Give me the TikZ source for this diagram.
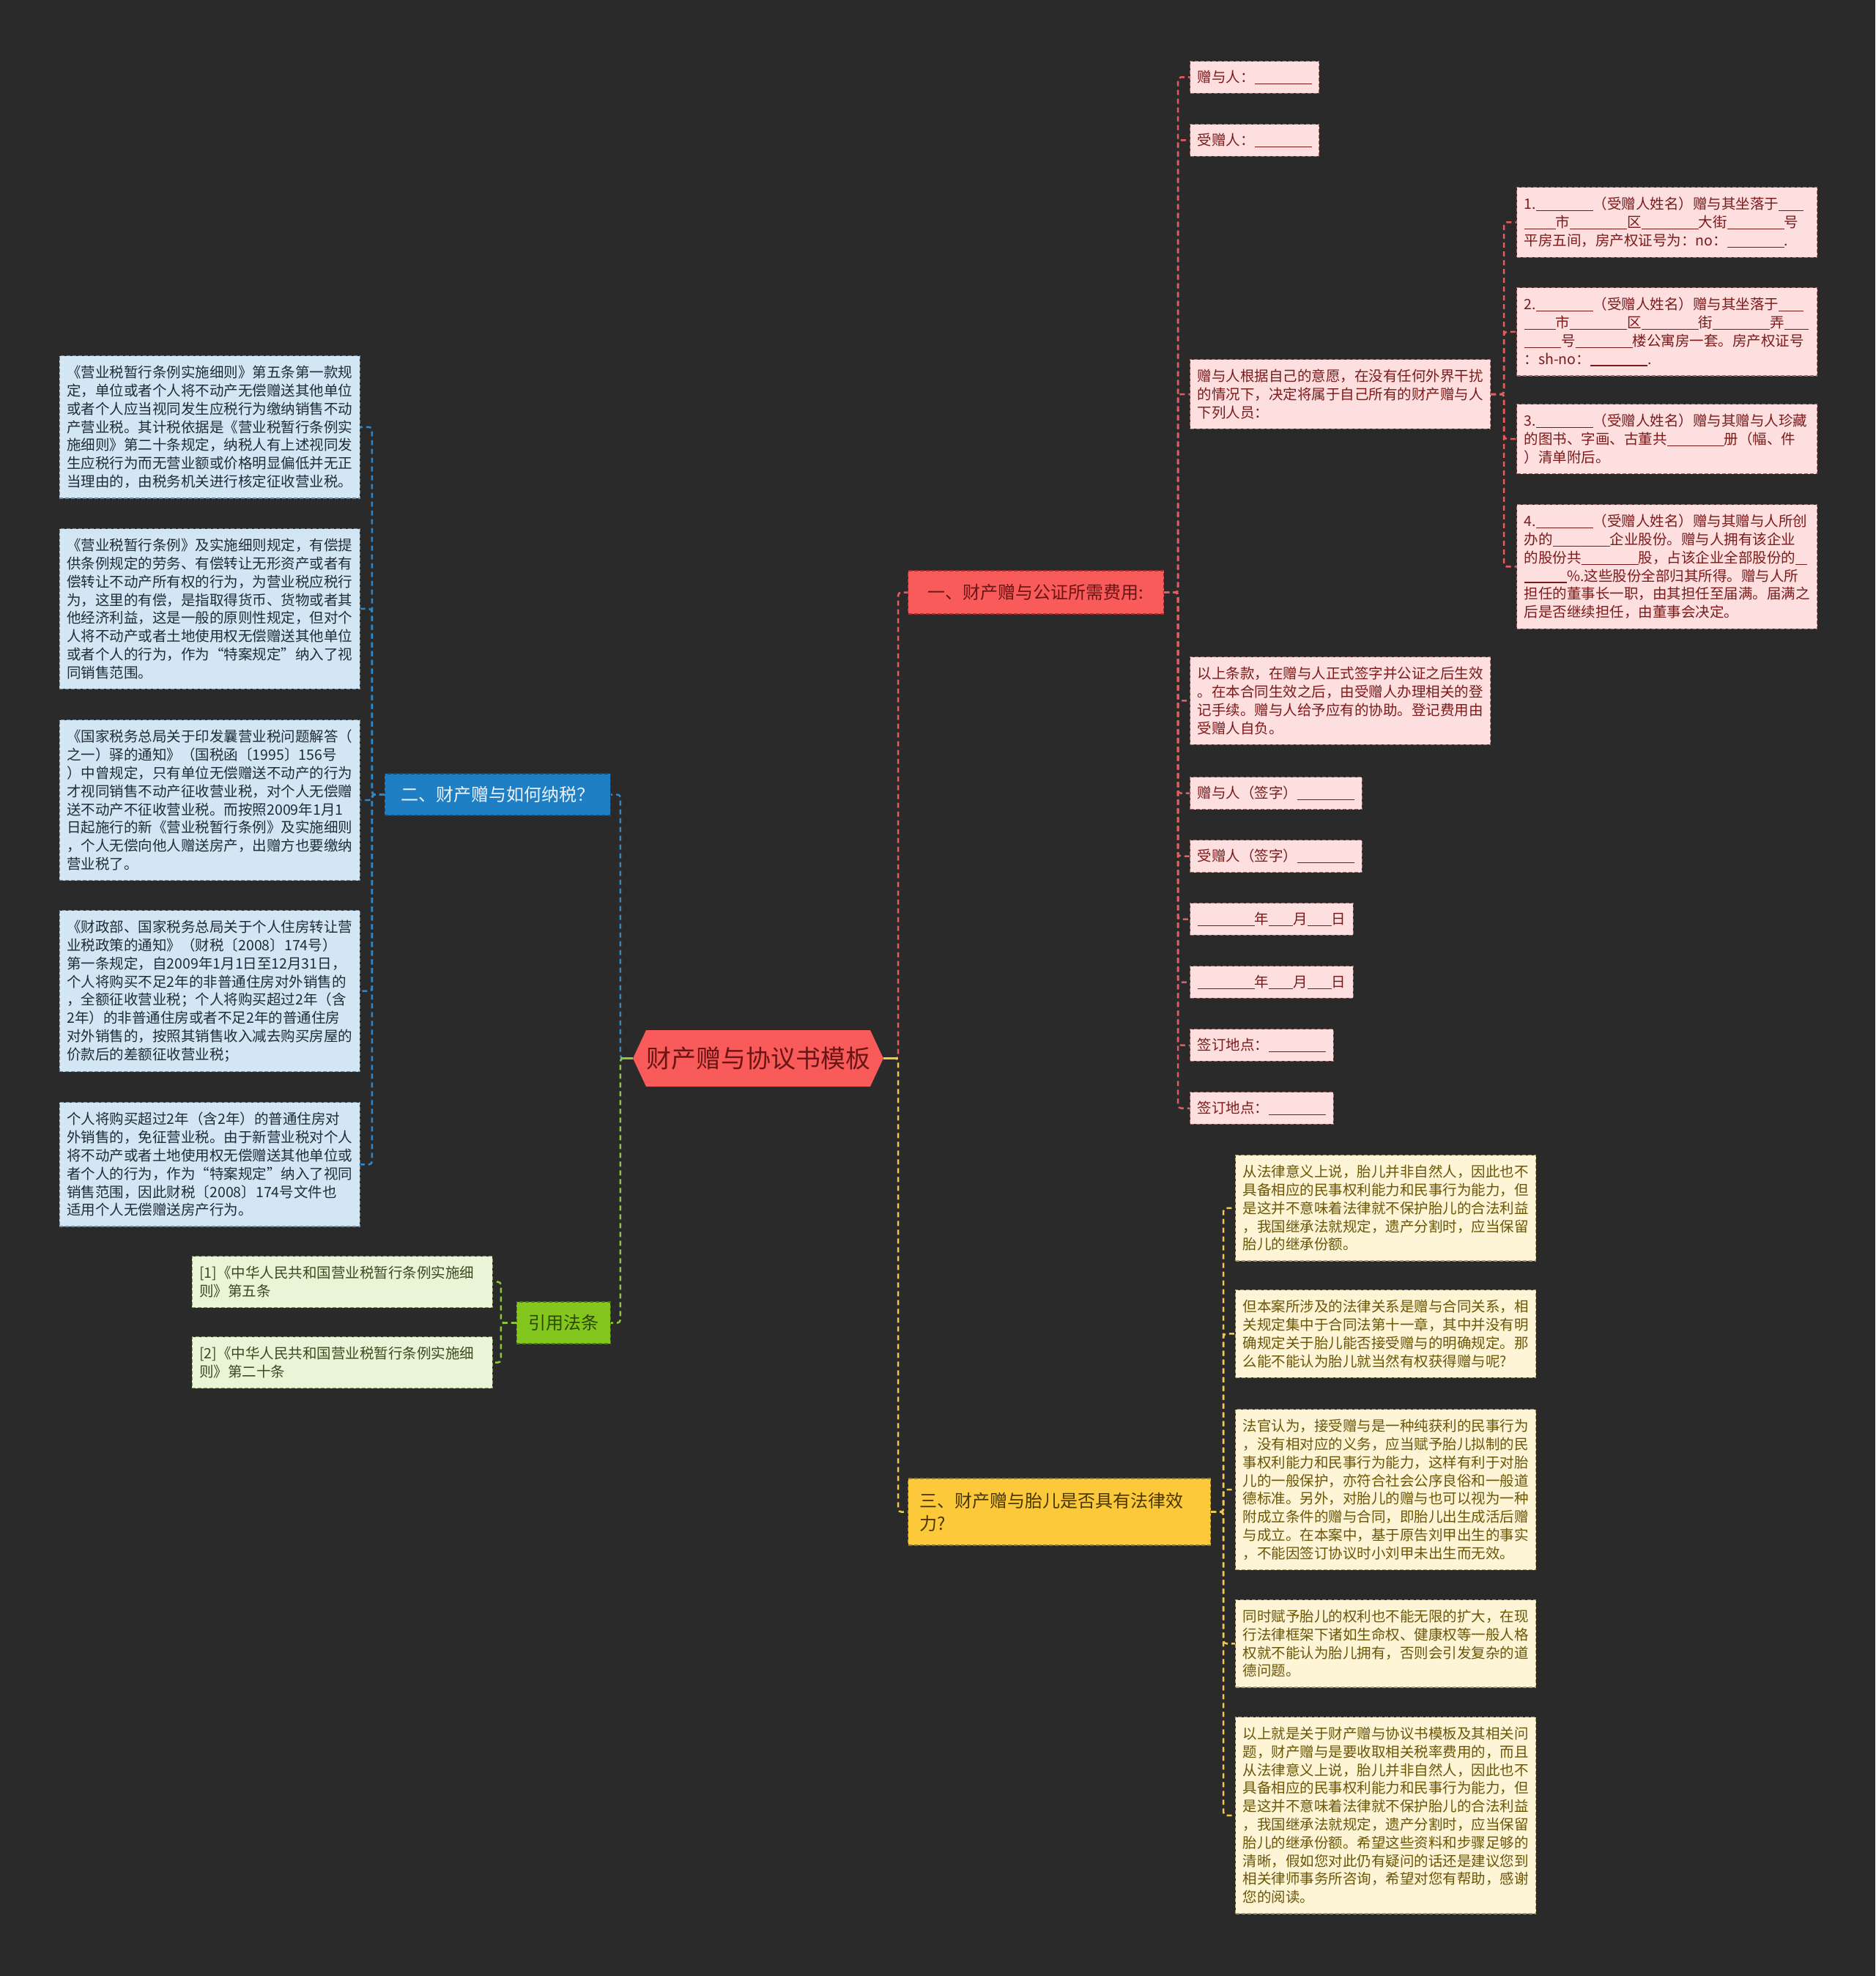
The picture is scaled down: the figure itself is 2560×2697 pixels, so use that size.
\documentclass[tikz,border=0pt]{standalone}
\usepackage{fontspec}
\setmainfont{Noto Sans CJK SC}
\usetikzlibrary{shapes.symbols}
\definecolor{bg}{HTML}{2A2A2A}
\definecolor{redM}{HTML}{F95B5B}
\definecolor{redT}{HTML}{6A1515}
\definecolor{redC}{HTML}{E85A5E}
\definecolor{pinkF}{HTML}{FDDFDF}
\definecolor{pinkT}{HTML}{7B1A1A}
\definecolor{pinkB}{HTML}{9A6A6A}
\definecolor{blueM}{HTML}{1F7FC4}
\definecolor{blueT}{HTML}{EAF3FB}
\definecolor{blueC}{HTML}{2D87C9}
\definecolor{blueF}{HTML}{D3E6F4}
\definecolor{blueLT}{HTML}{1F2C36}
\definecolor{blueB}{HTML}{6F8DA6}
\definecolor{greenM}{HTML}{82C61E}
\definecolor{greenT}{HTML}{2D4A00}
\definecolor{greenC}{HTML}{8DC73F}
\definecolor{greenF}{HTML}{EAF4D7}
\definecolor{greenLT}{HTML}{3A4A20}
\definecolor{greenB}{HTML}{8A9A70}
\definecolor{yelM}{HTML}{FCC93A}
\definecolor{yelT}{HTML}{4A3600}
\definecolor{yelC}{HTML}{F2C84B}
\definecolor{yelF}{HTML}{FDF5D6}
\definecolor{yelLT}{HTML}{6B5506}
\definecolor{yelB}{HTML}{A89A70}
\newcommand\bl[1]{\rule[-0.12em]{#1em}{0.055em}}
\begin{document}
\begin{tikzpicture}[x=1pt,y=-1pt,
  leafbase/.style={anchor=north west, align=left, inner xsep=10pt, inner ysep=13.5pt,
    font=\fontsize{19.5pt}{24.8pt}\selectfont, draw, dash pattern=on 5pt off 3pt, line width=1.2pt},
  wide/.style={text width=390pt},
  pinkleaf/.style={leafbase, fill=pinkF, text=pinkT, draw=pinkB},
  blueleaf/.style={leafbase, wide, fill=blueF, text=blueLT, draw=blueB, anchor=north east},
  greenleaf/.style={leafbase, wide, fill=greenF, text=greenLT, draw=greenB, anchor=north east},
  yelleaf/.style={leafbase, wide, fill=yelF, text=yelLT, draw=yelB},
  branchbox/.style={inner xsep=16pt, inner ysep=0pt, minimum height=57pt,
    font=\fontsize{24pt}{31pt}\selectfont, draw, dash pattern=on 5pt off 3pt, line width=1.2pt},
  conn/.style={line width=2.5pt, dash pattern=on 7pt off 5pt, rounded corners=4pt}
]
\useasboundingbox[fill=bg] (0,0) rectangle (2560,2697);

% center
\node (ctr) [signal, signal to=west and east, signal pointer angle=130, fill=redM, text=redT,
  minimum width=332pt, minimum height=77pt, inner sep=0pt,
  font=\fontsize{34pt}{40pt}\selectfont] at (1035,1444.5) {财产赠与协议书模板};

% branches
\node (b1) [branchbox, anchor=west, minimum width=349pt, minimum height=59pt, fill=redM, text=redT, draw=redT!60!redM] at (1239,808.5) {一、财产赠与公证所需费用:};
\node (b2) [branchbox, anchor=east, minimum width=308pt, fill=blueM, text=blueT, draw=blueM!60!black] at (834,1084.5) {二、财产赠与如何纳税？};
\node (b3) [branchbox, anchor=east, minimum width=125pt, fill=greenM, text=greenT, draw=greenM!60!black] at (834,1805.5) {引用法条};
\node (b4) [branchbox, anchor=west, text width=381pt, align=left, minimum height=91pt, fill=yelM, text=yelT, draw=yelM!60!black] at (1239,2063.5) {三、财产赠与胎儿是否具有法律效\\力?};

% red leaves
\node (p1) [pinkleaf, inner ysep=12.5pt] at (1624,83) {赠与人：\bl{4}};
\node (p2) [pinkleaf, inner ysep=12.5pt] at (1624,169) {受赠人：\bl{4}};
\node (p3) [pinkleaf, wide] at (1624,490) {赠与人根据自己的意愿，在没有任何外界干扰\\的情况下，决定将属于自己所有的财产赠与人\\下列人员：};
\node (p4) [pinkleaf, wide] at (1624,896) {以上条款，在赠与人正式签字并公证之后生效\\。在本合同生效之后，由受赠人办理相关的登\\记手续。赠与人给予应有的协助。登记费用由\\受赠人自负。};
\node (p5) [pinkleaf, inner ysep=12.5pt] at (1624,1060) {赠与人（签字）\bl{4}};
\node (p6) [pinkleaf, inner ysep=12.5pt] at (1624,1146) {受赠人（签字）\bl{4}};
\node (p7) [pinkleaf, inner ysep=12.5pt] at (1624,1232) {\bl{4}年\bl{1.7}月\bl{1.7}日};
\node (p8) [pinkleaf, inner ysep=12.5pt] at (1624,1318) {\bl{4}年\bl{1.7}月\bl{1.7}日};
\node (p9) [pinkleaf, inner ysep=12.5pt] at (1624,1404) {签订地点：\bl{4}};
\node (p10) [pinkleaf, inner ysep=12.5pt] at (1624,1490) {签订地点：\bl{4}};

% sub leaves
\node (s1) [pinkleaf, wide] at (2070,255) {1.\bl{4}（受赠人姓名）赠与其坐落于\bl{1.7}\\\bl{2.2}市\bl{4}区\bl{4}大街\bl{4}号\\平房五间，房产权证号为：no：\bl{4}.};
\node (s2) [pinkleaf, wide] at (2070,392) {2.\bl{4}（受赠人姓名）赠与其坐落于\bl{1.7}\\\bl{2.2}市\bl{4}区\bl{4}街\bl{4}弄\bl{1.7}\\\bl{2.6}号\bl{4}楼公寓房一套。房产权证号\\：sh-no：\bl{4}.};
\node (s3) [pinkleaf, wide] at (2070,551) {3.\bl{4}（受赠人姓名）赠与其赠与人珍藏\\的图书、字画、古董共\bl{4}册（幅、件\\）清单附后。};
\node (s4) [pinkleaf, wide] at (2070,688) {4.\bl{4}（受赠人姓名）赠与其赠与人所创\\办的\bl{4}企业股份。赠与人拥有该企业\\的股份共\bl{4}股，占该企业全部股份的\bl{0.8}\\\bl{3}\%.这些股份全部归其所得。赠与人所\\担任的董事长一职，由其担任至届满。届满之\\后是否继续担任，由董事会决定。};

% blue leaves
\node (q1) [blueleaf] at (492,485) {《营业税暂行条例实施细则》第五条第一款规\\定，单位或者个人将不动产无偿赠送其他单位\\或者个人应当视同发生应税行为缴纳销售不动\\产营业税。其计税依据是《营业税暂行条例实\\施细则》第二十条规定，纳税人有上述视同发\\生应税行为而无营业额或价格明显偏低并无正\\当理由的，由税务机关进行核定征收营业税。};
\node (q2) [blueleaf] at (492,721) {《营业税暂行条例》及实施细则规定，有偿提\\供条例规定的劳务、有偿转让无形资产或者有\\偿转让不动产所有权的行为，为营业税应税行\\为，这里的有偿，是指取得货币、货物或者其\\他经济利益，这是一般的原则性规定，但对个\\人将不动产或者土地使用权无偿赠送其他单位\\或者个人的行为，作为“特案规定”纳入了视\\同销售范围。};
\node (q3) [blueleaf] at (492,982) {《国家税务总局关于印发曩营业税问题解答（\\之一）驿的通知》（国税函〔1995〕156号\\）中曾规定，只有单位无偿赠送不动产的行为\\才视同销售不动产征收营业税，对个人无偿赠\\送不动产不征收营业税。而按照2009年1月1\\日起施行的新《营业税暂行条例》及实施细则\\，个人无偿向他人赠送房产，出赠方也要缴纳\\营业税了。};
\node (q4) [blueleaf] at (492,1242) {《财政部、国家税务总局关于个人住房转让营\\业税政策的通知》（财税〔2008〕174号）\\第一条规定，自2009年1月1日至12月31日，\\个人将购买不足2年的非普通住房对外销售的\\，全额征收营业税；个人将购买超过2年（含\\2年）的非普通住房或者不足2年的普通住房\\对外销售的，按照其销售收入减去购买房屋的\\价款后的差额征收营业税；};
\node (q5) [blueleaf] at (492,1504) {个人将购买超过2年（含2年）的普通住房对\\外销售的，免征营业税。由于新营业税对个人\\将不动产或者土地使用权无偿赠送其他单位或\\者个人的行为，作为“特案规定”纳入了视同\\销售范围，因此财税〔2008〕174号文件也\\适用个人无偿赠送房产行为。};

% green leaves
\node (g1) [greenleaf] at (673,1714) {[1]《中华人民共和国营业税暂行条例实施细\\则》第五条};
\node (g2) [greenleaf] at (673,1824) {[2]《中华人民共和国营业税暂行条例实施细\\则》第二十条};

% yellow leaves
\node (y1) [yelleaf] at (1686,1576) {从法律意义上说，胎儿并非自然人，因此也不\\具备相应的民事权利能力和民事行为能力，但\\是这并不意味着法律就不保护胎儿的合法利益\\，我国继承法就规定，遗产分割时，应当保留\\胎儿的继承份额。};
\node (y2) [yelleaf] at (1686,1760) {但本案所涉及的法律关系是赠与合同关系，相\\关规定集中于合同法第十一章，其中并没有明\\确规定关于胎儿能否接受赠与的明确规定。那\\么能不能认为胎儿就当然有权获得赠与呢?};
\node (y3) [yelleaf] at (1686,1923) {法官认为，接受赠与是一种纯获利的民事行为\\，没有相对应的义务，应当赋予胎儿拟制的民\\事权利能力和民事行为能力，这样有利于对胎\\儿的一般保护，亦符合社会公序良俗和一般道\\德标准。另外，对胎儿的赠与也可以视为一种\\附成立条件的赠与合同，即胎儿出生成活后赠\\与成立。在本案中，基于原告刘甲出生的事实\\，不能因签订协议时小刘甲未出生而无效。};
\node (y4) [yelleaf] at (1686,2183) {同时赋予胎儿的权利也不能无限的扩大，在现\\行法律框架下诸如生命权、健康权等一般人格\\权就不能认为胎儿拥有，否则会引发复杂的道\\德问题。};
\node (y5) [yelleaf] at (1686,2343) {以上就是关于财产赠与协议书模板及其相关问\\题，财产赠与是要收取相关税率费用的，而且\\从法律意义上说，胎儿并非自然人，因此也不\\具备相应的民事权利能力和民事行为能力，但\\是这并不意味着法律就不保护胎儿的合法利益\\，我国继承法就规定，遗产分割时，应当保留\\胎儿的继承份额。希望这些资料和步骤足够的\\清晰，假如您对此仍有疑问的话还是建议您到\\相关律师事务所咨询，希望对您有帮助，感谢\\您的阅读。};

% connectors
\draw[conn, draw=redC] (ctr.east) -- ++(20,0) |- (b1.west);
\draw[conn, draw=yelC] (ctr.east) -- ++(20,0) |- (b4.west);
\draw[conn, draw=blueC] (ctr.west) -- ++(-17,0) |- (b2.east);
\draw[conn, draw=greenC] (ctr.west) -- ++(-17,0) |- (b3.east);
\draw[line width=2.5pt, draw=yelC] (ctr.east) -- ++(20,0);
\draw[line width=2.5pt, draw=greenC] (ctr.west) -- ++(-17,0);

\foreach \n in {p1,p2,p3,p4,p5,p6,p7,p8,p9,p10}
  \draw[conn, draw=redC] (b1.east) -- ++(19,0) |- (\n.west);
\foreach \n in {s1,s2,s3,s4}
  \draw[conn, draw=redC] (p3.east) -- ++(18,0) |- (\n.west);
\foreach \n in {q1,q2,q3,q4,q5}
  \draw[conn, draw=blueC] (b2.west) -- ++(-17,0) |- (\n.east);
\foreach \n in {g1,g2}
  \draw[conn, draw=greenC] (b3.west) -- ++(-21,0) |- (\n.east);
\foreach \n in {y1,y2,y3,y4,y5}
  \draw[conn, draw=yelC] (b4.east) -- ++(17,0) |- (\n.west);
\end{tikzpicture}
\end{document}
